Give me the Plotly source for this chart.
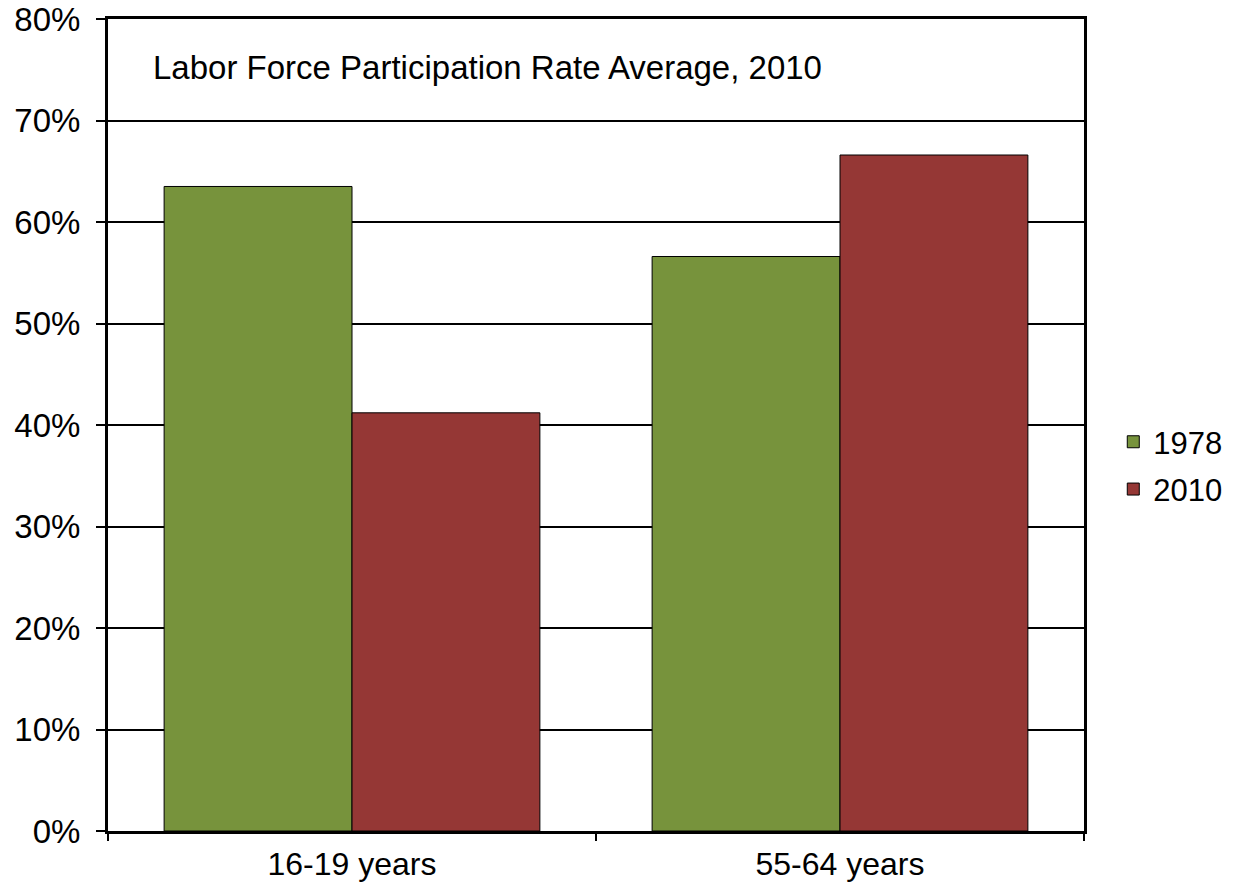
import plotly.graph_objects as go

categories = ["16-19 years", "55-64 years"]
series_names = ["1978", "2010"]
values_1978 = [0.635, 0.566]
values_2010 = [0.412, 0.666]
colors = ["#77933C", "#953735"]
y_ticks = [0, 0.1, 0.2, 0.3, 0.4, 0.5, 0.6, 0.7, 0.8]
title_text = "Labor Force Participation Rate Average, 2010"

fig = go.Figure()
for name, vals, col in zip(series_names, [values_1978, values_2010], colors):
    fig.add_trace(go.Bar(
        x=categories, y=vals, name=name, legendgroup=name,
        marker=dict(color=col, line=dict(color="black", width=1)),
    ))

fig.update_layout(
    width=1239, height=886,
    margin=dict(l=108, r=143, t=19, b=55),
    paper_bgcolor="white", plot_bgcolor="white",
    barmode="group", bargap=0.23, bargroupgap=0,
    font=dict(family="Liberation Sans, Arial, sans-serif", color="black", size=33),
    showlegend=True,
    legend=dict(x=1.03, y=0.45, xanchor="left", yanchor="middle",
                font=dict(size=31), tracegroupgap=4, itemwidth=30),
    annotations=[dict(text=title_text, xref="paper", yref="paper",
                      x=0.044, y=0.94, xanchor="left", yanchor="middle",
                      showarrow=False, font=dict(size=33))],
)
fig.update_yaxes(range=[0, 0.8], tickvals=y_ticks, tickformat=".0%",
                 showgrid=True, gridcolor="black", gridwidth=2,
                 showline=True, linecolor="black", linewidth=3, mirror=True,
                 ticks="outside", ticklen=9, tickwidth=2, tickcolor="black",
                 ticklabelstandoff=9, automargin=False,
                 tickfont=dict(size=33), zeroline=False)
fig.update_xaxes(showline=True, linecolor="black", linewidth=3, mirror=True,
                 ticks="outside", ticklen=7, tickwidth=2, tickcolor="black",
                 tickson="boundaries", ticklabelstandoff=3, automargin=False,
                 tickfont=dict(size=32))

fig.write_html("out.html")
